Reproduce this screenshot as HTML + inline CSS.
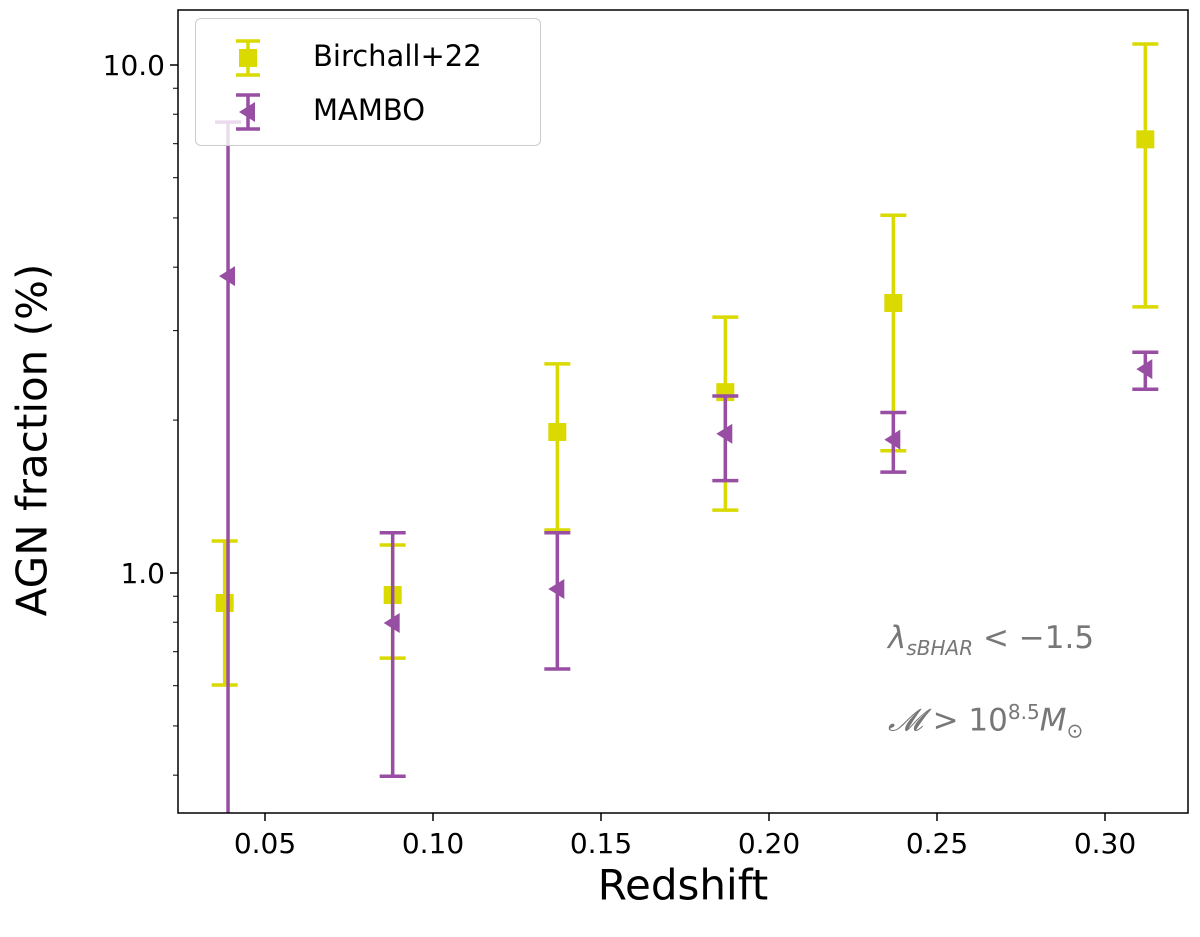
<!DOCTYPE html>
<html><head><meta charset="utf-8"><style>
body{margin:0;background:#fff;}
svg{display:block;font-family:"DejaVu Sans","Liberation Sans",sans-serif;}
</style></head><body>
<svg id="chart" width="1200" height="937" viewBox="0 0 1200 937"></svg>
<script>
const redshiftB=[0.038,0.088,0.137,0.187,0.237,0.312];
const birchallVal=[0.873,0.905,1.895,2.27,3.40,7.14];
const birchallHi=[1.156,1.135,2.58,3.19,5.06,11.0];
const birchallLo=[0.602,0.68,1.215,1.33,1.74,3.34];
const redshiftM=[0.039,0.088,0.137,0.187,0.237,0.312];
const mamboVal=[3.84,0.797,0.93,1.88,1.83,2.52];
const mamboHi=[7.72,1.20,1.20,2.23,2.07,2.72];
const mamboLo=[0.2,0.398,0.647,1.52,1.58,2.30];
const xTicks=[0.05,0.10,0.15,0.20,0.25,0.30];
const xTickLabels=["0.05","0.10","0.15","0.20","0.25","0.30"];
const yTicks=[1,10];
const yTickLabels=["1.0","10.0"];

const L=178,R=1188,T=10,B=813;
const X=v=>265+(v-0.05)*3360;
const Y=v=>573-Math.log10(v)*508;
const svg=document.getElementById('chart');
const NS='http://www.w3.org/2000/svg';
function mk(tag,attrs,parent){const e=document.createElementNS(NS,tag);for(const k in attrs)e.setAttribute(k,attrs[k]);(parent||svg).appendChild(e);return e;}
const clip=mk('clipPath',{id:'pc'});mk('rect',{x:L,y:T,width:R-L,height:B-T},clip);
const plot=mk('g',{'clip-path':'url(#pc)'});



xTicks.forEach((t,i)=>{
 const x=X(t);
 const tk=mk('line',{x1:x,x2:x,y1:B,y2:B+8,stroke:'#000','stroke-width':1.5});
 
 
 const tx=mk('text',{x:x,y:B+40,'text-anchor':'middle','font-size':28});
 tx.textContent=xTickLabels[i];
 
 
});
yTicks.forEach((t,i)=>{
 const y=Y(t);
 const tk=mk('line',{x1:L-8,x2:L,y1:y,y2:y,stroke:'#000','stroke-width':1.5});
 
 
 const tx=mk('text',{x:L-13,y:y+10,'text-anchor':'end','font-size':28});
 tx.textContent=yTickLabels[i];
 
 
});
[0.4,0.5,0.6,0.7,0.8,0.9,2,3,4,5,6,7,8,9].forEach(v=>{
 const y=Y(v);
 const tk=mk('line',{x1:L-5,x2:L,y1:y,y2:y,stroke:'#000','stroke-width':1});
 
 
});

function series(xs,vals,his,los,color,marker,name){
 const g=mk('g',{},plot);
 
 
 xs.forEach((xv,i)=>{
  const x=X(xv),y=Y(vals[i]),yh=Y(his[i]),yl=Y(los[i]);
  mk('line',{x1:x,x2:x,y1:yh,y2:yl,stroke:color,'stroke-width':3.5},g);
  mk('line',{x1:x-13,x2:x+13,y1:yh,y2:yh,stroke:color,'stroke-width':3.5},g);
  mk('line',{x1:x-13,x2:x+13,y1:yl,y2:yl,stroke:color,'stroke-width':3.5},g);
  let m;
  if(marker==='square') m=mk('rect',{x:x-9,y:y-9,width:18,height:18,fill:color},g);
  else m=mk('polygon',{points:`${x-9},${y} ${x+7},${y-10} ${x+7},${y+10}`,fill:color},g);
  
  
 });
}
series(redshiftB,birchallVal,birchallHi,birchallLo,'#dada00','square','birchall');
series(redshiftM,mamboVal,mamboHi,mamboLo,'#984ea3','tri','mambo');

const frame=mk('rect',{x:L,y:T,width:R-L,height:B-T,fill:'none',stroke:'#000','stroke-width':1.5});


</script>
<div style="position:absolute;left:0;top:0;width:1200px;height:937px;pointer-events:none;font-family:'DejaVu Sans','Liberation Sans',sans-serif;">
 <div style="position:absolute;left:683px;top:885px;transform:translate(-50%,-50%);font-size:42px;">Redshift</div>
 <div style="position:absolute;left:32px;top:440px;transform:translate(-50%,-50%) rotate(-90deg);font-size:42px;white-space:nowrap;">AGN fraction (%)</div>
 <div style="position:absolute;left:195px;top:18px;width:344px;height:126px;border:1.5px solid #ccc;border-radius:6px;background:rgba(255,255,255,0.8);">
  <svg width="80" height="126" style="position:absolute;left:0;top:0">
   <line x1="52" x2="52" y1="22" y2="56" stroke="#dada00" stroke-width="3.5"/><line x1="40" x2="64" y1="22" y2="22" stroke="#dada00" stroke-width="3.5"/><line x1="40" x2="64" y1="56" y2="56" stroke="#dada00" stroke-width="3.5"/><rect x="43" y="30" width="18" height="18" fill="#dada00"/>
   <line x1="52" x2="52" y1="76" y2="110" stroke="#984ea3" stroke-width="3.5"/><line x1="40" x2="64" y1="76" y2="76" stroke="#984ea3" stroke-width="3.5"/><line x1="40" x2="64" y1="110" y2="110" stroke="#984ea3" stroke-width="3.5"/><polygon points="43,93 59,83 59,103" fill="#984ea3"/>
  </svg>
  <div style="position:absolute;left:117px;top:20px;font-size:29px;">Birchall+22</div>
  <div style="position:absolute;left:117px;top:74px;font-size:29px;">MAMBO</div>
 </div>
 <div style="position:absolute;left:888px;top:620px;font-size:31px;color:#777;"><i>λ<sub style="font-size:20px">sBHAR</sub></i> &lt; −1.5</div>
 <div style="position:absolute;left:888px;top:700px;font-size:31px;color:#777;"><i>𝓜</i> &gt; 10<sup style="font-size:20px">8.5</sup><i>M</i><sub style="font-size:20px">⊙</sub></div>
</div>
</body></html>
